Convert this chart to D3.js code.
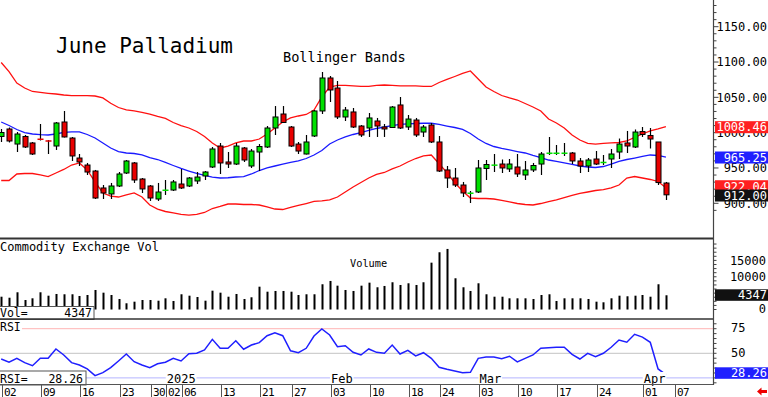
<!DOCTYPE html>
<html><head><meta charset="utf-8">
<script src="https://cdn.jsdelivr.net/npm/d3@7"></script>
<style>
body{margin:0;background:#fff;}
svg{display:block;}
text{font-family:"DejaVu Sans Mono",monospace;}
</style>
</head><body>
<svg id="c" width="768" height="397"></svg>
<script>
// ---------- DATA ----------
const dates = [
"12-02","12-03","12-04","12-05","12-06","12-09","12-10","12-11","12-12","12-13",
"12-16","12-17","12-18","12-19","12-20","12-23","12-24","12-26","12-27","12-30","12-31",
"01-02","01-03","01-06","01-07","01-08","01-09","01-10","01-13","01-14","01-15","01-16","01-17",
"01-21","01-22","01-23","01-24","01-27","01-28","01-29","01-30","01-31",
"02-03","02-04","02-05","02-06","02-07","02-10","02-11","02-12","02-13","02-14",
"02-18","02-19","02-20","02-21","02-24","02-25","02-26","02-27","02-28",
"03-03","03-04","03-05","03-06","03-07","03-10","03-11","03-12","03-13","03-14",
"03-17","03-18","03-19","03-20","03-21","03-24","03-25","03-26","03-27","03-28","03-31",
"04-01","04-02","04-03","04-04"];
const axisDates = dates.concat(["04-07"]);

const open  = [994.6,1005.2,983.9,994.6,985.4,991.0,988.9,981.1,1015.1,992.4,
964.1,954.2,945.7,921.7,913.2,924.5,942.9,957.1,934.4,924.5,906.1,
918.1,918.8,927.3,924.5,931.6,938.7,951.4,981.1,958.5,955.6,978.3,952.8,
972.6,979.7,1006.6,1026.4,1008.0,983.9,969.8,995.3,1030.7,
1077.4,1063.2,1022.2,1029.3,1009.4,1006.6,1016.5,1008.0,1007.3,1039.2,
1008.0,1017.9,1000.9,1010.8,986.8,947.2,935.8,925.9,913.9,
916.0,949.3,953.8,955.6,948.6,951.4,940.1,947.2,955.6,970.5,
970.5,970.5,971.2,959.9,952.8,962.7,957.1,962.7,972.6,985.4,979.7,
1001.6,996.0,986.8,928.7];
const high  = [1005.2,1007.3,1000.9,996.7,986.8,1012.3,989.6,1015.1,1030.7,993.9,
969.8,957.1,947.2,925.9,928.8,944.3,961.3,958.5,935.8,925.9,928.8,
933.0,933.0,948.6,937.2,944.3,945.7,979.7,985.4,972.6,985.4,979.7,976.9,
983.9,1009.4,1037.7,1037.7,1009.4,986.8,996.7,1032.1,1085.9,
1080.2,1073.1,1036.3,1034.9,1010.8,1027.8,1020.8,1012.3,1037.7,1050.5,
1025.0,1020.8,1010.8,1013.7,995.3,952.8,950.0,930.2,917.4,
961.3,961.3,969.8,962.0,962.7,969.8,959.9,957.1,972.6,993.9,
982.5,985.4,972.6,964.1,964.1,974.0,968.4,976.9,991.7,1002.4,1004.5,
1008.0,1006.6,986.8,930.2];
const low   = [986.8,986.1,972.6,978.3,968.4,988.9,969.8,975.5,993.2,959.9,
952.8,940.1,906.1,906.1,906.1,923.1,941.5,928.8,914.6,903.3,903.3,
911.8,917.4,920.3,923.1,927.3,933.0,950.0,941.5,950.0,954.2,958.5,950.0,
945.7,978.3,996.7,1014.4,979.7,969.8,969.1,993.9,1026.4,
1043.4,1019.3,1016.5,1006.6,993.9,993.9,993.9,993.9,1006.6,1005.2,
1003.8,993.9,993.9,985.4,944.3,921.7,923.1,908.9,900.4,
914.6,933.0,944.3,942.9,944.3,937.2,933.0,944.3,940.1,968.4,
968.4,967.0,955.6,942.9,944.3,954.2,954.2,950.0,962.7,971.2,978.3,
993.9,977.6,925.9,904.7];
const close = [1000.2,988.2,998.1,979.7,969.8,990.3,987.5,1013.7,993.9,967.0,
958.5,944.3,907.5,914.6,924.5,941.5,959.9,933.0,920.3,907.5,916.0,
918.8,930.2,921.7,935.8,937.2,944.3,976.9,957.1,955.6,981.1,961.3,974.0,
980.4,1006.6,1022.2,1014.4,981.1,974.0,986.8,1030.7,1077.4,
1060.4,1022.2,1032.1,1008.0,996.7,1020.8,1009.4,1005.2,1036.3,1006.6,
1019.3,996.7,1008.0,986.8,945.7,935.8,925.9,914.6,914.6,
950.0,954.9,954.2,950.0,955.6,941.5,947.2,953.5,969.8,971.2,
971.2,971.2,959.9,952.8,961.3,955.6,958.5,969.8,983.9,981.1,1000.9,
997.4,991.0,929.4,912.0];

const bbUpper = [1099.3,1086.3,1070.3,1063.2,1058.3,1056.9,1055.7,1054.7,1053.3,1052.3,
1052.3,1052.3,1051.9,1049.1,1041.6,1035.6,1032.1,1030.7,1028.8,1026.4,1022.9,
1020.1,1014.4,1010.1,1006.6,1001.6,994.6,985.4,978.3,981.1,985.4,988.2,988.2,
991.0,998.1,1006.6,1015.1,1020.8,1023.6,1025.7,1032.1,1050.5,
1064.6,1066.8,1066.8,1066.1,1065.4,1065.4,1066.8,1067.5,1066.8,1066.1,
1066.1,1066.1,1065.4,1065.4,1071.0,1075.3,1079.5,1083.8,1087.3,
1076.0,1064.6,1058.3,1052.6,1049.1,1046.2,1041.3,1036.3,1030.7,1019.3,
1013.7,1006.6,996.7,989.6,984.7,983.9,984.7,985.4,986.1,988.2,993.2,
998.1,1002.4,1005.2,1008.46];
const bbMid = [1015.1,1010.1,1004.5,1000.2,998.1,997.1,996.7,998.1,1000.5,1001.2,
1001.2,997.4,992.4,985.4,978.3,973.3,971.2,970.5,968.4,964.8,962.0,
957.8,953.5,949.3,945.7,942.2,939.4,937.2,935.8,936.2,937.2,937.9,941.5,
946.4,950.0,952.8,955.6,957.8,959.9,963.4,968.4,974.8,
983.9,989.6,993.9,997.4,1000.2,1003.1,1005.9,1008.0,1010.1,1011.6,
1012.3,1013.0,1013.3,1013.3,1011.6,1009.4,1007.3,1004.5,998.8,
991.0,984.7,980.4,977.6,975.5,973.3,971.2,967.7,964.8,961.3,
959.2,957.1,955.2,952.8,951.4,950.7,952.1,955.6,959.2,962.0,964.1,
966.3,968.4,967.7,965.25];
const bbLower = [932.3,932.3,941.5,942.2,942.2,940.1,937.9,942.9,947.9,954.2,
957.1,947.2,930.2,914.6,910.3,908.9,911.8,914.6,908.9,897.6,891.9,
888.4,886.3,884.2,883.4,884.2,887.0,892.6,895.5,899.0,899.0,898.3,898.3,
897.6,894.8,891.9,891.2,894.1,896.9,899.7,902.6,903.3,
904.7,908.9,916.0,923.1,929.4,935.8,940.8,943.6,948.6,952.8,
958.5,963.4,967.0,968.4,956.0,943.5,929.0,917.4,907.5,
906.8,906.8,906.1,904.0,901.9,899.7,898.3,897.6,899.7,902.3,
904.7,908.2,911.1,913.9,916.0,918.1,919.5,921.7,925.9,935.8,937.9,
935.8,933.7,930.9,922.04];

const volume = [3910,3600,5260,2900,3420,5260,4220,4740,4650,4650,
4130,4430,5960,5140,4430,3210,1900,2390,2900,2900,2690,
3420,2600,4650,4220,3820,2690,5750,5140,3910,4740,3210,3730,
6970,5440,5660,5660,5440,4430,4650,4650,7710,
8720,7280,5960,5660,7280,8200,6790,7190,8320,7490,
8010,7490,8320,14310,17490,18500,9540,6790,5660,
8010,4650,3910,3910,3420,3420,3420,3210,4430,4650,
2600,3420,3420,3420,3210,2390,2200,3420,4220,4040,4220,
4430,3910,7710,4347];

const rsi = [44.2,40.9,44.9,40.5,37.4,44.9,44.9,54.4,48.3,40.5,
38.1,34.1,27.3,30.3,35.4,42.2,49.3,41.5,38.1,35.4,39.4,
40.9,44.9,42.2,49.6,50.0,53.4,64.2,55.1,55.1,62.8,54.1,58.4,
60.8,67.9,70.9,67.9,52.6,50.6,55.1,67.6,74.7,
68.6,56.7,57.7,51.0,48.3,54.4,51.0,50.0,58.4,49.3,
53.0,47.3,50.6,44.9,35.8,33.8,32.0,30.3,30.7,
44.9,46.2,46.2,44.5,47.0,41.2,44.9,48.3,55.1,55.7,
56.1,56.1,49.0,44.2,50.0,46.5,50.0,56.1,63.5,61.2,69.3,
66.5,61.2,34.1,28.26];

const priceTicks = [900,950,1000,1050,1100,1150];
const volTicks = [0,10000,15000];
const rsiTicks = [50,75];
const dayTicks = [["12-02","02"],["12-09","09"],["12-16","16"],["12-23","23"],["12-30","30"],
["01-02","02"],["01-06","06"],["01-13","13"],["01-21","21"],["01-27","27"],
["02-03","03"],["02-10","10"],["02-18","18"],["02-24","24"],["03-03","03"],
["03-10","10"],["03-17","17"],["03-24","24"],["04-01","01"],["04-07","07"]];
const monthTicks = [["01-02","2025"],["02-03","Feb"],["03-03","Mar"],["04-01","Apr"]];

// ---------- LAYOUT ----------
const svg = d3.select("#c");
const W = 768, AX = 713.5;
const x = d3.scalePoint().domain(axisDates).range([1.2, 1.2 + 86*7.82]);
const y = d3.scaleLinear().domain([900,1150]).range([203.3, 26.7]);
const yv = d3.scaleLinear().domain([0,15000]).range([309.5, 260.4]);
const yr = d3.scaleLinear().domain([25,75]).range([377.9, 328.7]);

const GREEN = "#00e000", RED = "#e80000";

// ---------- PRICE PANEL ----------
svg.append("text").attr("x",56).attr("y",52.5).attr("font-size",21).attr("fill","#000").text("June Palladium");
svg.append("text").attr("x",283).attr("y",61.5).attr("font-size",13.6).attr("fill","#000").text("Bollinger Bands");

const bandLine = arr => d3.line().x((d,i)=>x(dates[i])).y(d=>y(d))(arr);
svg.append("path").attr("d",bandLine(bbUpper)).attr("fill","none").attr("stroke","#ff1010").attr("stroke-width",1.3);
svg.append("path").attr("d",bandLine(bbLower)).attr("fill","none").attr("stroke","#ff1010").attr("stroke-width",1.3);
svg.append("path").attr("d",bandLine(bbMid)).attr("fill","none").attr("stroke","#1a1aff").attr("stroke-width",1.3);

const cg = svg.append("g");
dates.forEach((d,i)=>{
  const cx = Math.round(x(d)) + 0.5;
  const up = close[i] >= open[i];
  const col = up ? GREEN : RED;
  cg.append("line").attr("x1",cx).attr("x2",cx).attr("y1",y(high[i])).attr("y2",y(low[i]))
    .attr("stroke","#000").attr("stroke-width",1.2);
  const yo = y(open[i]), yc = y(close[i]);
  if (Math.abs(yo-yc) < 1.2) {
    cg.append("line").attr("x1",cx-3).attr("x2",cx+3).attr("y1",(yo+yc)/2).attr("y2",(yo+yc)/2)
      .attr("stroke",col).attr("stroke-width",1.5);
  } else {
    cg.append("rect").attr("x",cx-2.5).attr("width",5).attr("y",Math.min(yo,yc)).attr("height",Math.abs(yo-yc))
      .attr("fill",col).attr("stroke","#000").attr("stroke-width",1);
  }
});

// price axis
const pa = svg.append("g");
d3.range(890,1181,10).forEach(v=>{
  const yy = y(v); if (yy<0||yy>237) return;
  pa.append("line").attr("x1",AX).attr("x2",AX+(v%50===0?5:3)).attr("y1",yy).attr("y2",yy).attr("stroke","#444").attr("stroke-width",1);
});
priceTicks.forEach(v=>{
  pa.append("text").attr("x",767).attr("y",y(v)+4.3).attr("text-anchor","end").attr("font-size",12).attr("fill","#000").text(v.toFixed(2));
});
function valBox(yy, fill, txt, tcol){
  svg.append("rect").attr("x",715).attr("y",yy-6).attr("width",53).attr("height",12).attr("fill",fill);
  svg.append("text").attr("x",767).attr("y",yy+4.3).attr("text-anchor","end").attr("font-size",12).attr("fill",tcol).text(txt);
}
valBox(y(bbUpper[85])+0.5, "#ff2020", bbUpper[85].toFixed(2), "#fff");
valBox(y(bbMid[85])+0.3, "#2020ff", bbMid[85].toFixed(2), "#fff");
valBox(y(bbLower[85])-1.5, "#ff2020", bbLower[85].toFixed(2), "#fff");
valBox(y(close[85])+0.7, "#111", close[85].toFixed(2), "#fff");

// ---------- VOLUME PANEL ----------
svg.append("text").attr("x",0).attr("y",250.5).attr("font-size",12).attr("fill","#000").text("Commodity Exchange Vol");
svg.append("text").attr("x",350).attr("y",266.5).attr("font-size",10.3).attr("fill","#000").text("Volume");
const vg = svg.append("g");
dates.forEach((d,i)=>{
  const cx = Math.round(x(d));
  vg.append("rect").attr("x",cx-0.5).attr("width",2).attr("y",yv(volume[i])).attr("height",yv(0)-yv(volume[i])).attr("fill","#000");
});
svg.append("rect").attr("x",-1).attr("y",306.5).attr("width",95).attr("height",13).attr("fill","#fff").attr("stroke","#555");
svg.append("text").attr("x",0).attr("y",316.5).attr("font-size",11.5).text("Vol=");
svg.append("text").attr("x",92).attr("y",316.5).attr("text-anchor","end").attr("font-size",11.5).text(volume[85]);
d3.range(0,20001,1250).forEach(v=>{
  const yy=yv(v); if (yy<241||yy>318) return;
  svg.append("line").attr("x1",AX).attr("x2",AX+3).attr("y1",yy).attr("y2",yy).attr("stroke","#444");
});
volTicks.forEach(v=>{
  svg.append("text").attr("x",766).attr("y",(v===0?yv(v)-1:yv(v))+4.3).attr("text-anchor","end").attr("font-size",12).text(v);
});
svg.append("rect").attr("x",715).attr("y",289.3).attr("width",53).attr("height",11.5).attr("fill","#111");
svg.append("text").attr("x",767).attr("y",299).attr("text-anchor","end").attr("font-size",12).attr("fill","#fff").text(volume[85]);

// ---------- RSI PANEL ----------
svg.append("line").attr("x1",0).attr("x2",AX).attr("y1",yr(75)).attr("y2",yr(75)).attr("stroke","#ffb4b4");
svg.append("line").attr("x1",0).attr("x2",AX).attr("y1",yr(50)).attr("y2",yr(50)).attr("stroke","#c4c4c4");
svg.append("line").attr("x1",0).attr("x2",AX).attr("y1",yr(25)).attr("y2",yr(25)).attr("stroke","#b4b4ff");
svg.append("path").attr("d",d3.line().x((d,i)=>x(dates[i])).y(d=>yr(d))(rsi)).attr("fill","none").attr("stroke","#1f1fff").attr("stroke-width",1.5);
svg.append("rect").attr("x",0).attr("y",320.5).attr("width",22).attr("height",12).attr("fill","#fff");
svg.append("text").attr("x",0).attr("y",331).attr("font-size",11.5).text("RSI");
d3.range(20,81,5).forEach(v=>{
  const yy=yr(v); if (yy<321||yy>383) return;
  svg.append("line").attr("x1",AX).attr("x2",AX+3).attr("y1",yy).attr("y2",yy).attr("stroke","#444");
});
rsiTicks.forEach(v=>{
  svg.append("text").attr("x",731).attr("y",yr(v)+3.3).attr("font-size",12).text(v);
});
svg.append("rect").attr("x",715).attr("y",367.3).attr("width",53).attr("height",11.5).attr("fill","#2020ff");
svg.append("text").attr("x",767).attr("y",377).attr("text-anchor","end").attr("font-size",12).attr("fill","#fff").text(rsi[85].toFixed(2));

monthTicks.forEach(([d,t])=>{
  const xs = x(d)+1.3;
  svg.append("rect").attr("x",xs-1).attr("y",372).attr("width",t.length*7.2+2).attr("height",12).attr("fill","#fff");
  svg.append("text").attr("x",xs).attr("y",382.7).attr("font-size",12).text(t);
});
svg.append("rect").attr("x",-1).attr("y",371).attr("width",87).attr("height",14).attr("fill","#fff").attr("stroke","#555");
svg.append("text").attr("x",0).attr("y",382.5).attr("font-size",11.5).text("RSI=");
svg.append("text").attr("x",83).attr("y",382.5).attr("text-anchor","end").attr("font-size",11.5).text(rsi[85].toFixed(2));

// ---------- FRAME ----------
svg.append("line").attr("x1",0).attr("x2",AX).attr("y1",238.5).attr("y2",238.5).attr("stroke","#333").attr("stroke-width",2);
svg.append("line").attr("x1",0).attr("x2",AX).attr("y1",319).attr("y2",319).attr("stroke","#333").attr("stroke-width",1.5);
svg.append("line").attr("x1",0).attr("x2",AX).attr("y1",384.5).attr("y2",384.5).attr("stroke","#555").attr("stroke-width",1);
svg.append("line").attr("x1",AX).attr("x2",AX).attr("y1",0).attr("y2",385).attr("stroke","#444").attr("stroke-width",1.2);

// day ticks
dayTicks.forEach(([d,t])=>{
  const xs = Math.round(x(d)) + 1.5;
  svg.append("line").attr("x1",xs).attr("x2",xs).attr("y1",385).attr("y2",397).attr("stroke","#555");
  svg.append("text").attr("x",xs+1.5).attr("y",395.5).attr("font-size",11).attr("letter-spacing",-0.6).text(t);
});

// red arrow
svg.append("path").attr("d","M757,391.5 L761.5,387.5 L761.5,390 L767,390 L767,393 L761.5,393 L761.5,395.5 Z").attr("fill","#ee0000");
</script>
</body></html>
